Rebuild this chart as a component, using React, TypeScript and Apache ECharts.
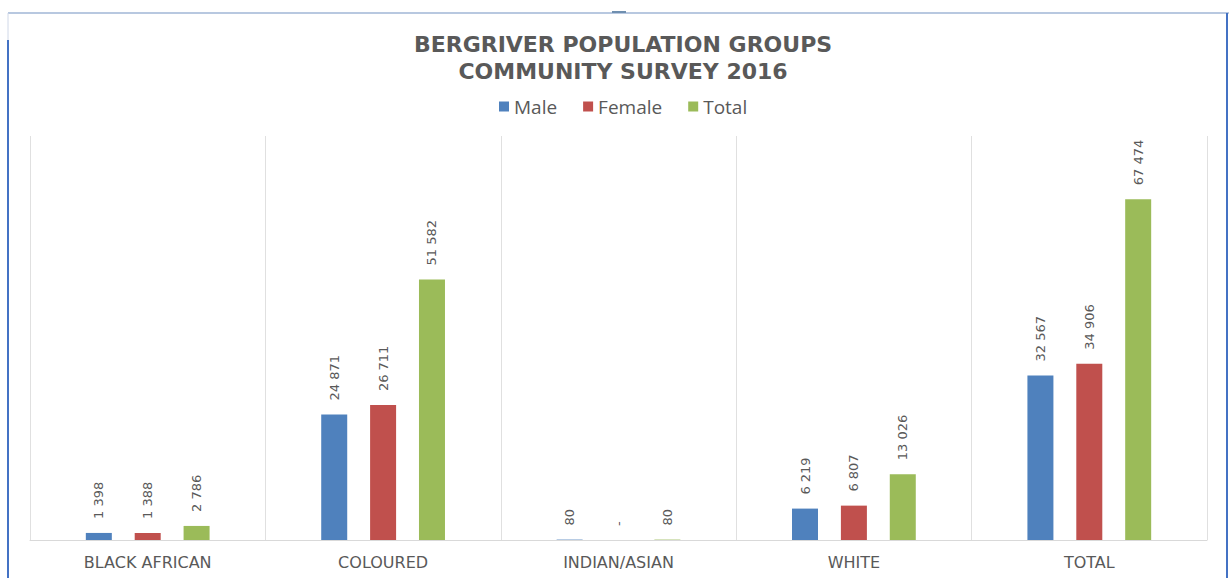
import React, { useEffect, useRef } from "react";
import * as echarts from "echarts";

const categories = ["BLACK AFRICAN", "COLOURED", "INDIAN/ASIAN", "WHITE", "TOTAL"];
const maleValues = [1398, 24871, 80, 6219, 32567];
const femaleValues = [1388, 26711, 0, 6807, 34906];
const totalValues = [2786, 51582, 80, 13026, 67474];
const seriesNames = ["Male", "Female", "Total"];
const seriesColors = ["#4f81bd", "#c0504d", "#9bbb59"];

const fmt = (v: number) =>
  v === 0 ? "-" : String(v).replace(/\B(?=(\d{3})+(?!\d))/g, " ");

export default function App() {
  const ref = useRef<HTMLDivElement>(null);
  useEffect(() => {
    if (!ref.current) return;
    const chart = echarts.init(ref.current, undefined, { renderer: "svg" });
    const dataSets = [maleValues, femaleValues, totalValues];
    chart.setOption({
      animation: false,
      backgroundColor: "#ffffff",
      title: {
        text: "BERGRIVER POPULATION GROUPS\nCOMMUNITY SURVEY 2016",
        left: 618,
        top: 26,
        textAlign: "center",
        textStyle: {
          fontFamily: "DejaVu Sans",
          fontWeight: "bold",
          fontSize: 22,
          lineHeight: 27,
          color: "#595959",
        },
      },
      legend: {
        data: seriesNames,
        top: 92,
        left: 494,
        icon: "rect",
        itemWidth: 10,
        itemHeight: 10,
        itemGap: 26,
        textStyle: { fontFamily: "Open Sans", fontSize: 19, color: "#595959" },
      },
      grid: { left: 30, right: 22, top: 136, bottom: 38, containLabel: false },
      xAxis: {
        type: "category",
        data: categories,
        axisLine: { lineStyle: { color: "#d9d9d9", width: 1 } },
        axisTick: { show: false },
        splitLine: { show: true, lineStyle: { color: "#e0e0e0", width: 1 } },
        axisLabel: {
          margin: 14,
          fontFamily: "DejaVu Sans",
          fontSize: 16,
          color: "#595959",
        },
      },
      yAxis: {
        type: "value",
        min: 0,
        max: 80000,
        show: false,
        splitLine: { show: false },
      },
      series: seriesNames.map((name, i) => ({
        name,
        type: "bar",
        data: dataSets[i],
        barWidth: 26,
        barGap: "88%",
        itemStyle: { color: seriesColors[i] },
        label: {
          show: true,
          position: "top",
          rotate: 90,
          align: "left",
          verticalAlign: "middle",
          distance: 14,
          fontFamily: "DejaVu Sans",
          fontSize: 13,
          color: "#595959",
          formatter: (p: any) => fmt(p.value),
        },
      })),
      graphic: [
        {
          type: "line",
          shape: { x1: 8, y1: 13, x2: 1229, y2: 13 },
          style: { stroke: "#b8c8e0", lineWidth: 2 },
        },
        {
          type: "line",
          shape: { x1: 8, y1: 40, x2: 8, y2: 578 },
          style: { stroke: "#4472c4", lineWidth: 2 },
        },
        {
          type: "line",
          shape: { x1: 8, y1: 13, x2: 8, y2: 40 },
          style: { stroke: "#d0d8e8", lineWidth: 1 },
        },
        {
          type: "line",
          shape: { x1: 1227, y1: 13, x2: 1227, y2: 578 },
          style: { stroke: "#4472c4", lineWidth: 2 },
        },
        {
          type: "line",
          shape: { x1: 612, y1: 12, x2: 626, y2: 12 },
          style: { stroke: "#6f8fb0", lineWidth: 2 },
        },
      ],
    });
    return () => chart.dispose();
  }, []);
  return (
    <div
      ref={ref}
      style={{ position: "absolute", left: 0, top: 0, width: 1229, height: 578 }}
    />
  );
}
